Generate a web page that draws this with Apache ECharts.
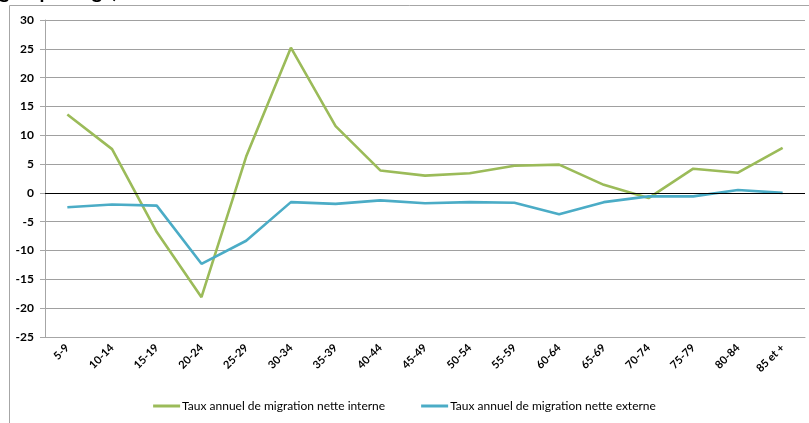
<!DOCTYPE html>
<html>
<head>
<meta charset="utf-8">
<script src="https://cdn.jsdelivr.net/npm/echarts@6/dist/echarts.min.js"></script>
<style>
  html, body { margin: 0; padding: 0; background: #fff; }
  #chart { width: 809px; height: 423px; }
</style>
</head>
<body>
<div id="chart"></div>
<script>
// Age groups
const ageGroups = ['5-9', '10-14', '15-19', '20-24', '25-29', '30-34', '35-39', '40-44', '45-49',
  '50-54', '55-59', '60-64', '65-69', '70-74', '75-79', '80-84', '85 et +'];

// Annual net internal migration rate
const interne = [13.6, 7.6, -6.8, -18.1, 6.3, 25.2, 11.6, 3.9, 3.0, 3.4, 4.7, 4.9, 1.4, -0.9, 4.2, 3.5, 7.8];

// Annual net external migration rate
const externe = [-2.5, -2.0, -2.2, -12.3, -8.3, -1.6, -1.9, -1.3, -1.8, -1.6, -1.7, -3.7, -1.6, -0.6, -0.6, 0.5, 0.0];

// Value axis ticks
const yMin = -25, yMax = 30, yStep = 5;

const seriesNames = ['Taux annuel de migration nette interne', 'Taux annuel de migration nette externe'];

const chart = echarts.init(document.getElementById('chart'), null, { renderer: 'canvas' });
const fontFam = 'Lato, "Liberation Sans", sans-serif';

chart.setOption({
  animation: false,
  backgroundColor: '#fff',
  textStyle: { fontFamily: fontFam },
  graphic: [
    {
      type: 'text', left: -1, top: -18, silent: true,
      style: { text: "groupe d'âge)", font: 'bold 20px ' + fontFam, fill: '#000' }
    },
    {
      type: 'rect', silent: true, z: -1,
      shape: { x: 9.5, y: 5.5, width: 840, height: 440 },
      style: { fill: 'none', stroke: '#a6a6a6', lineWidth: 1 }
    }
  ],
  grid: { left: 45, right: 4, top: 20, bottom: 86, containLabel: false },
  legend: {
    bottom: 6, left: 'center',
    itemWidth: 27, itemHeight: 3, itemGap: 36,
    icon: 'rect',
    textStyle: { fontSize: 12, color: '#000', fontFamily: fontFam, padding: [0, 0, 0, -3] },
    data: seriesNames
  },
  xAxis: {
    type: 'category',
    data: ageGroups,
    boundaryGap: true,
    axisLine: { show: true, onZero: false, lineStyle: { color: '#a6a6a6' } },
    axisTick: { show: false },
    axisLabel: { rotate: 45, fontSize: 11, fontWeight: 'bold', color: '#000', margin: 9, interval: 0 },
    splitLine: { show: false }
  },
  yAxis: {
    type: 'value',
    min: yMin, max: yMax, interval: yStep,
    axisLine: { show: true, lineStyle: { color: '#a6a6a6' } },
    axisTick: { show: true, length: 5, lineStyle: { color: '#a6a6a6' } },
    axisLabel: { fontSize: 12, fontWeight: 'bold', color: '#000', margin: 11 },
    splitLine: { show: true, lineStyle: { color: '#a0a0a0', width: 1 } }
  },
  series: [
    {
      name: seriesNames[0], type: 'line', data: interne,
      symbol: 'none', smooth: false,
      lineStyle: { color: '#9bbb59', width: 2.6 },
      itemStyle: { color: '#9bbb59' },
      z: 3,
      markLine: {
        silent: true, symbol: 'none', label: { show: false },
        lineStyle: { color: '#000', width: 1, type: 'solid' },
        data: [{ yAxis: 0 }]
      }
    },
    {
      name: seriesNames[1], type: 'line', data: externe,
      symbol: 'none', smooth: false,
      lineStyle: { color: '#4bacc6', width: 2.6 },
      itemStyle: { color: '#4bacc6' },
      z: 3
    }
  ]
});
</script>
</body>
</html>
